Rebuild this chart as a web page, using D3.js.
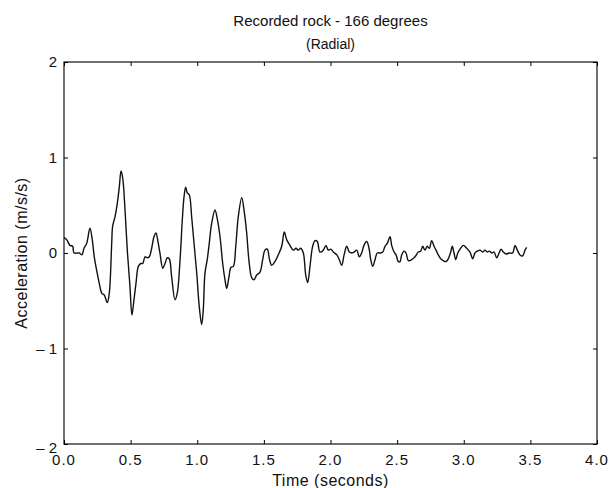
<!DOCTYPE html>
<html>
<head>
<meta charset="utf-8">
<script src="https://cdn.jsdelivr.net/npm/d3@7"></script>
<style>
  body { margin: 0; background: #fff; }
  text { font-family: "Liberation Sans", Arial, sans-serif; fill: #111; }
</style>
</head>
<body>
<div id="chart"></div>
<script>
// time samples (s)
var timeS = [0.000, 0.020, 0.045, 0.065, 0.075, 0.100, 0.115, 0.135, 0.150, 0.170,
  0.195, 0.212, 0.227, 0.245, 0.265, 0.283, 0.302, 0.325, 0.340, 0.358,
  0.365, 0.383, 0.400, 0.415, 0.428, 0.441, 0.458, 0.475, 0.495, 0.510,
  0.525, 0.540, 0.558, 0.576, 0.591, 0.608, 0.625, 0.640, 0.658, 0.675,
  0.690, 0.705, 0.720, 0.741, 0.758, 0.775, 0.790, 0.808, 0.833, 0.850,
  0.871, 0.888, 0.901, 0.913, 0.925, 0.940, 0.958, 0.976, 0.996, 1.015,
  1.033, 1.045, 1.058, 1.075, 1.090, 1.108, 1.133, 1.150, 1.171, 1.191,
  1.208, 1.221, 1.238, 1.253, 1.271, 1.289, 1.308, 1.334, 1.351, 1.371,
  1.388, 1.409, 1.426, 1.446, 1.471, 1.491, 1.508, 1.526, 1.541, 1.559,
  1.583, 1.608, 1.634, 1.653, 1.671, 1.696, 1.721, 1.741, 1.758, 1.776,
  1.796, 1.814, 1.829, 1.846, 1.866, 1.884, 1.901, 1.921, 1.946, 1.966,
  1.983, 2.002, 2.021, 2.047, 2.066, 2.084, 2.102, 2.122, 2.141, 2.159,
  2.176, 2.197, 2.216, 2.234, 2.251, 2.272, 2.289, 2.302, 2.317, 2.334,
  2.351, 2.371, 2.392, 2.409, 2.426, 2.447, 2.459, 2.477, 2.492, 2.509,
  2.522, 2.534, 2.552, 2.567, 2.584, 2.609, 2.634, 2.659, 2.677, 2.692,
  2.709, 2.726, 2.742, 2.759, 2.777, 2.792, 2.809, 2.827, 2.846, 2.867,
  2.884, 2.902, 2.914, 2.927, 2.940, 2.955, 2.972, 2.997, 3.022, 3.047,
  3.067, 3.084, 3.102, 3.122, 3.142, 3.159, 3.177, 3.192, 3.210, 3.227,
  3.247, 3.265, 3.280, 3.297, 3.317, 3.342, 3.367, 3.385, 3.402, 3.422,
  3.442, 3.460, 3.472];

// acceleration (m/s/s)
var accel = [0.16, 0.14, 0.08, 0.07, 0.00, 0.00, 0.00, -0.02, 0.05, 0.10,
  0.26, 0.14, -0.04, -0.18, -0.32, -0.42, -0.44, -0.52, -0.42, 0.10,
  0.28, 0.38, 0.52, 0.69, 0.86, 0.78, 0.45, 0.03, -0.35, -0.65,
  -0.49, -0.32, -0.14, -0.11, -0.11, -0.04, -0.05, -0.04, 0.05, 0.17,
  0.21, 0.12, 0.00, -0.16, -0.11, -0.05, -0.06, -0.25, -0.49, -0.42,
  -0.07, 0.35, 0.59, 0.69, 0.63, 0.61, 0.38, 0.10, -0.21, -0.56,
  -0.75, -0.60, -0.21, -0.07, 0.10, 0.31, 0.45, 0.36, 0.17, -0.11,
  -0.28, -0.37, -0.25, -0.15, -0.14, 0.07, 0.38, 0.58, 0.45, 0.21,
  -0.08, -0.26, -0.28, -0.23, -0.20, -0.07, 0.03, 0.04, -0.06, -0.13,
  -0.09, -0.02, 0.07, 0.22, 0.14, 0.08, 0.03, 0.05, 0.03, 0.05,
  0.00, -0.23, -0.31, -0.14, 0.07, 0.13, 0.12, 0.01, 0.03, 0.08,
  0.03, 0.04, 0.01, -0.02, -0.07, -0.13, -0.02, 0.07, 0.01, 0.00,
  0.01, 0.03, -0.04, 0.00, 0.08, 0.12, 0.05, -0.07, -0.14, -0.07,
  0.00, 0.00, 0.01, 0.07, 0.10, 0.17, 0.08, 0.01, -0.02, -0.09,
  -0.09, -0.02, 0.02, 0.00, -0.08, -0.07, -0.04, 0.01, 0.02, 0.07,
  0.03, 0.07, 0.05, 0.13, 0.07, 0.03, -0.02, -0.06, -0.08, -0.09,
  -0.06, 0.01, 0.07, 0.00, -0.07, 0.00, 0.04, 0.08, 0.05, 0.01,
  -0.06, 0.00, 0.02, 0.03, 0.01, 0.03, 0.01, 0.02, 0.00, 0.01,
  -0.05, 0.00, 0.04, 0.01, -0.01, 0.00, 0.00, 0.08, 0.03, -0.02,
  -0.03, 0.03, 0.06];

var xTicks = [0, 0.5, 1, 1.5, 2, 2.5, 3, 3.5, 4];
var yTicks = [-2, -1, 0, 1, 2];

var W = 615, H = 488;
var margin = {top: 62, right: 18, bottom: 44, left: 64};

var svg = d3.select("#chart").append("svg")
  .attr("width", W)
  .attr("height", H);

var x = d3.scaleLinear().domain([0, 4]).range([margin.left, W - margin.right]);
var y = d3.scaleLinear().domain([-2, 2]).range([H - margin.bottom, margin.top]);

function fmtY(d) {
  return d < 0 ? "\u2013 " + Math.abs(d) : String(d);
}

// frame
svg.append("rect")
  .attr("x", x(0)).attr("y", y(2))
  .attr("width", x(4) - x(0)).attr("height", y(-2) - y(2))
  .style("fill", "none").style("stroke", "#111").style("stroke-width", 1.2);

// inward ticks
svg.append("g")
  .attr("transform", "translate(0," + y(-2) + ")")
  .call(d3.axisTop(x).tickValues(xTicks).tickSize(4).tickFormat(""))
  .call(function(g) { g.select(".domain").remove(); });
svg.append("g")
  .attr("transform", "translate(0," + y(2) + ")")
  .call(d3.axisBottom(x).tickValues(xTicks).tickSize(4).tickFormat(""))
  .call(function(g) { g.select(".domain").remove(); });
svg.append("g")
  .attr("transform", "translate(" + x(0) + ",0)")
  .call(d3.axisRight(y).tickValues(yTicks).tickSize(4).tickFormat(""))
  .call(function(g) { g.select(".domain").remove(); });
svg.append("g")
  .attr("transform", "translate(" + x(4) + ",0)")
  .call(d3.axisLeft(y).tickValues(yTicks).tickSize(4).tickFormat(""))
  .call(function(g) { g.select(".domain").remove(); });

// tick labels
svg.append("g").selectAll("text")
  .data(xTicks)
  .enter().append("text")
  .attr("x", function(d) { return x(d); })
  .attr("y", y(-2) + 21)
  .attr("text-anchor", "middle")
  .style("font-size", "15px")
  .style("letter-spacing", "1px")
  .text(d3.format(".1f"));

svg.append("g").selectAll("text")
  .data(yTicks)
  .enter().append("text")
  .attr("x", x(0) - 7)
  .attr("y", function(d) { return y(d) + (d == -2 ? 9 : 5); })
  .attr("text-anchor", "end")
  .style("font-size", "15px")
  .text(fmtY);

// the record
var line = d3.line()
  .curve(d3.curveCatmullRom.alpha(0.5))
  .x(function(d) { return x(d[0]); })
  .y(function(d) { return y(d[1]); });

svg.append("path")
  .datum(d3.zip(timeS, accel))
  .attr("d", line)
  .style("fill", "none")
  .style("stroke", "#111")
  .style("stroke-width", 1.4)
  .style("stroke-linejoin", "round");

// titles
svg.append("text")
  .attr("x", (x(0) + x(4)) / 2).attr("y", 26)
  .attr("text-anchor", "middle")
  .style("font-size", "15px")
  .text("Recorded rock - 166 degrees");
svg.append("text")
  .attr("x", (x(0) + x(4)) / 2).attr("y", 49)
  .attr("text-anchor", "middle")
  .style("font-size", "14px")
  .text("(Radial)");
svg.append("text")
  .attr("x", (x(0) + x(4)) / 2).attr("y", 486)
  .attr("text-anchor", "middle")
  .style("font-size", "16px")
  .style("letter-spacing", "0.5px")
  .text("Time (seconds)");
svg.append("text")
  .attr("transform", "translate(27," + y(0) + ") rotate(-90)")
  .attr("text-anchor", "middle")
  .style("font-size", "16px")
  .style("letter-spacing", "0.5px")
  .text("Acceleration (m/s/s)");
</script>
</body>
</html>
